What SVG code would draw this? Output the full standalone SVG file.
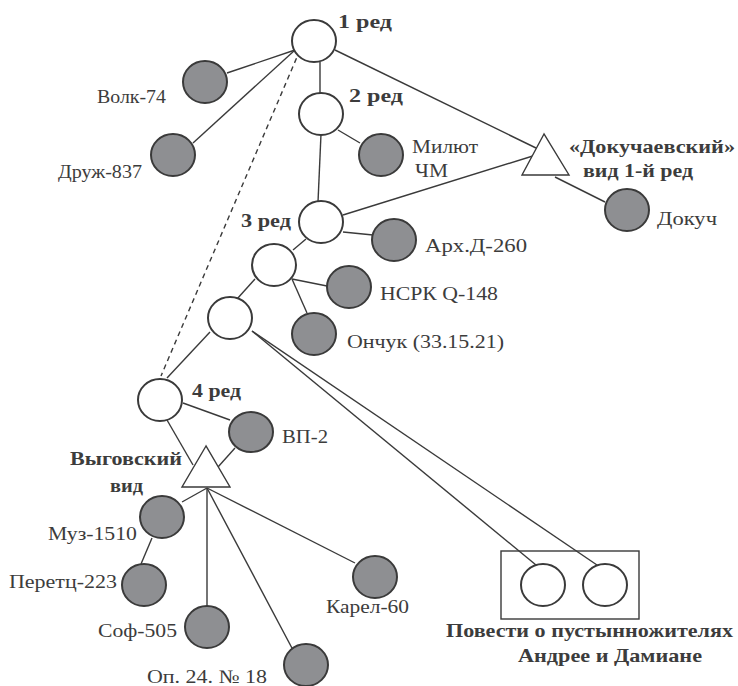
<svg xmlns="http://www.w3.org/2000/svg" width="738" height="686" viewBox="0 0 738 686">
<style>
.ln{stroke:#3a3a3a;stroke-width:1.4;fill:none}
.dash{stroke:#3a3a3a;stroke-width:1.4;fill:none;stroke-dasharray:5 4}
.w{fill:#fff;stroke:#3a3a3a;stroke-width:2}
.g{fill:#8e8f92;stroke:#3a3a3a;stroke-width:2}
.tri{fill:#fff;stroke:#3a3a3a;stroke-width:1.4}
.t{font-family:"Liberation Serif","Times New Roman",serif;font-size:19px;fill:#3c3c3c}
.b{font-family:"Liberation Serif","Times New Roman",serif;font-size:19px;font-weight:bold;fill:#3c3c3c}
</style>
<rect width="738" height="686" fill="#fff"/>
<g id="connectors">
<line class="ln" x1="295" y1="50" x2="227" y2="73"/>
<line class="ln" x1="295" y1="50" x2="193" y2="143"/>
<line class="dash" x1="300" y1="50" x2="161" y2="376"/>
<line class="ln" x1="320" y1="62" x2="320" y2="93"/>
<line class="ln" x1="335" y1="50" x2="536" y2="148"/>
<line class="ln" x1="338" y1="130" x2="360" y2="143"/>
<line class="ln" x1="321" y1="134" x2="318" y2="202"/>
<line class="ln" x1="343" y1="215" x2="536" y2="155"/>
<line class="ln" x1="555" y1="177" x2="605" y2="202"/>
<line class="ln" x1="343" y1="232" x2="373" y2="235"/>
<line class="ln" x1="306" y1="239" x2="293" y2="250"/>
<line class="ln" x1="292" y1="279" x2="327" y2="286"/>
<line class="ln" x1="292" y1="279" x2="307" y2="313"/>
<line class="ln" x1="255" y1="279" x2="237" y2="299"/>
<line class="ln" x1="210" y1="332" x2="167" y2="378"/>
<line class="ln" x1="252" y1="331" x2="536" y2="565"/>
<line class="ln" x1="252" y1="331" x2="597" y2="565"/>
<line class="ln" x1="183" y1="403" x2="230" y2="420"/>
<line class="ln" x1="167" y1="420" x2="193" y2="465"/>
<line class="ln" x1="218" y1="467" x2="235" y2="448"/>
<line class="ln" x1="207" y1="488" x2="182" y2="502"/>
<line class="ln" x1="207" y1="488" x2="207" y2="607"/>
<line class="ln" x1="207" y1="488" x2="293" y2="650"/>
<line class="ln" x1="207" y1="488" x2="355" y2="563"/>
<line class="ln" x1="152" y1="538" x2="141" y2="564"/>
</g>
<g id="n1"><ellipse class="w" cx="314" cy="41" rx="22" ry="21"/><text class="b" x="338" y="28" textLength="54" lengthAdjust="spacingAndGlyphs">1 ред</text></g>
<g id="volk"><ellipse class="g" cx="205" cy="82" rx="22" ry="21"/><text class="t" x="97" y="103" textLength="69" lengthAdjust="spacingAndGlyphs">Волк-74</text></g>
<g id="druzh"><ellipse class="g" cx="173" cy="155" rx="22" ry="21"/><text class="t" x="58" y="178" textLength="84" lengthAdjust="spacingAndGlyphs">Друж-837</text></g>
<g id="n2"><ellipse class="w" cx="321" cy="114" rx="22" ry="21"/><text class="b" x="349" y="102" textLength="54" lengthAdjust="spacingAndGlyphs">2 ред</text></g>
<g id="milyut"><ellipse class="g" cx="381" cy="155" rx="22" ry="21"/><text class="t" x="412" y="153" textLength="66" lengthAdjust="spacingAndGlyphs">Милют</text><text class="t" x="415" y="177" textLength="33" lengthAdjust="spacingAndGlyphs">ЧМ</text></g>
<g id="dokuch-vid"><polygon class="tri" points="544,134 522,175 569,175"/><text class="b" x="569" y="153" textLength="166" lengthAdjust="spacingAndGlyphs">«Докучаевский»</text><text class="b" x="583" y="177" textLength="110" lengthAdjust="spacingAndGlyphs">вид 1-й ред</text></g>
<g id="dokuch"><ellipse class="g" cx="627" cy="210" rx="22" ry="21"/><text class="t" x="657" y="225" textLength="60" lengthAdjust="spacingAndGlyphs">Докуч</text></g>
<g id="n3"><ellipse class="w" cx="321" cy="222" rx="22" ry="21"/><text class="b" x="241" y="227" textLength="50" lengthAdjust="spacingAndGlyphs">3 ред</text></g>
<g id="arh"><ellipse class="g" cx="394" cy="240" rx="22" ry="21"/><text class="t" x="425" y="252" textLength="102" lengthAdjust="spacingAndGlyphs">Арх.Д-260</text></g>
<g id="nA"><ellipse class="w" cx="274" cy="265" rx="22" ry="21"/></g>
<g id="nsrk"><ellipse class="g" cx="349" cy="287" rx="22" ry="21"/><text class="t" x="380" y="300" textLength="118" lengthAdjust="spacingAndGlyphs">НСРК Q-148</text></g>
<g id="onchuk"><ellipse class="g" cx="314" cy="334" rx="22" ry="21"/><text class="t" x="347" y="348" textLength="157" lengthAdjust="spacingAndGlyphs">Ончук (33.15.21)</text></g>
<g id="nB"><ellipse class="w" cx="230" cy="318" rx="22" ry="21"/></g>
<g id="n4"><ellipse class="w" cx="160" cy="400" rx="22" ry="21"/><text class="b" x="192" y="397" textLength="49" lengthAdjust="spacingAndGlyphs">4 ред</text></g>
<g id="vp2"><ellipse class="g" cx="251" cy="432" rx="22" ry="20"/><text class="t" x="282" y="443" textLength="46" lengthAdjust="spacingAndGlyphs">ВП-2</text></g>
<g id="vyg"><polygon class="tri" points="206,446 182,487 230,487"/><text class="b" x="70" y="465" textLength="112" lengthAdjust="spacingAndGlyphs">Выговский</text><text class="b" x="110" y="492" textLength="33" lengthAdjust="spacingAndGlyphs">вид</text></g>
<g id="muz"><ellipse class="g" cx="162" cy="517" rx="22" ry="21"/><text class="t" x="48" y="540" textLength="89" lengthAdjust="spacingAndGlyphs">Муз-1510</text></g>
<g id="peretc"><ellipse class="g" cx="144" cy="585" rx="22" ry="21"/><text class="t" x="9" y="588" textLength="108" lengthAdjust="spacingAndGlyphs">Перетц-223</text></g>
<g id="sof"><ellipse class="g" cx="207" cy="627" rx="22" ry="21"/><text class="t" x="98" y="637" textLength="79" lengthAdjust="spacingAndGlyphs">Соф-505</text></g>
<g id="op"><ellipse class="g" cx="306" cy="665" rx="22" ry="21"/><text class="t" x="147" y="683" textLength="120" lengthAdjust="spacingAndGlyphs">Оп. 24. № 18</text></g>
<g id="karel"><ellipse class="g" cx="375" cy="577" rx="22" ry="21"/><text class="t" x="326" y="613" textLength="83" lengthAdjust="spacingAndGlyphs">Карел-60</text></g>
<g id="povesti"><rect x="501" y="551" width="138" height="68" fill="none" stroke="#3a3a3a" stroke-width="1.4"/><ellipse class="w" cx="543" cy="585" rx="22" ry="21"/><ellipse class="w" cx="605" cy="585" rx="22" ry="21"/><text class="b" x="446" y="637" textLength="287" lengthAdjust="spacingAndGlyphs">Повести о пустынножителях</text><text class="b" x="518" y="662" textLength="184" lengthAdjust="spacingAndGlyphs">Андрее и Дамиане</text></g>
</svg>
